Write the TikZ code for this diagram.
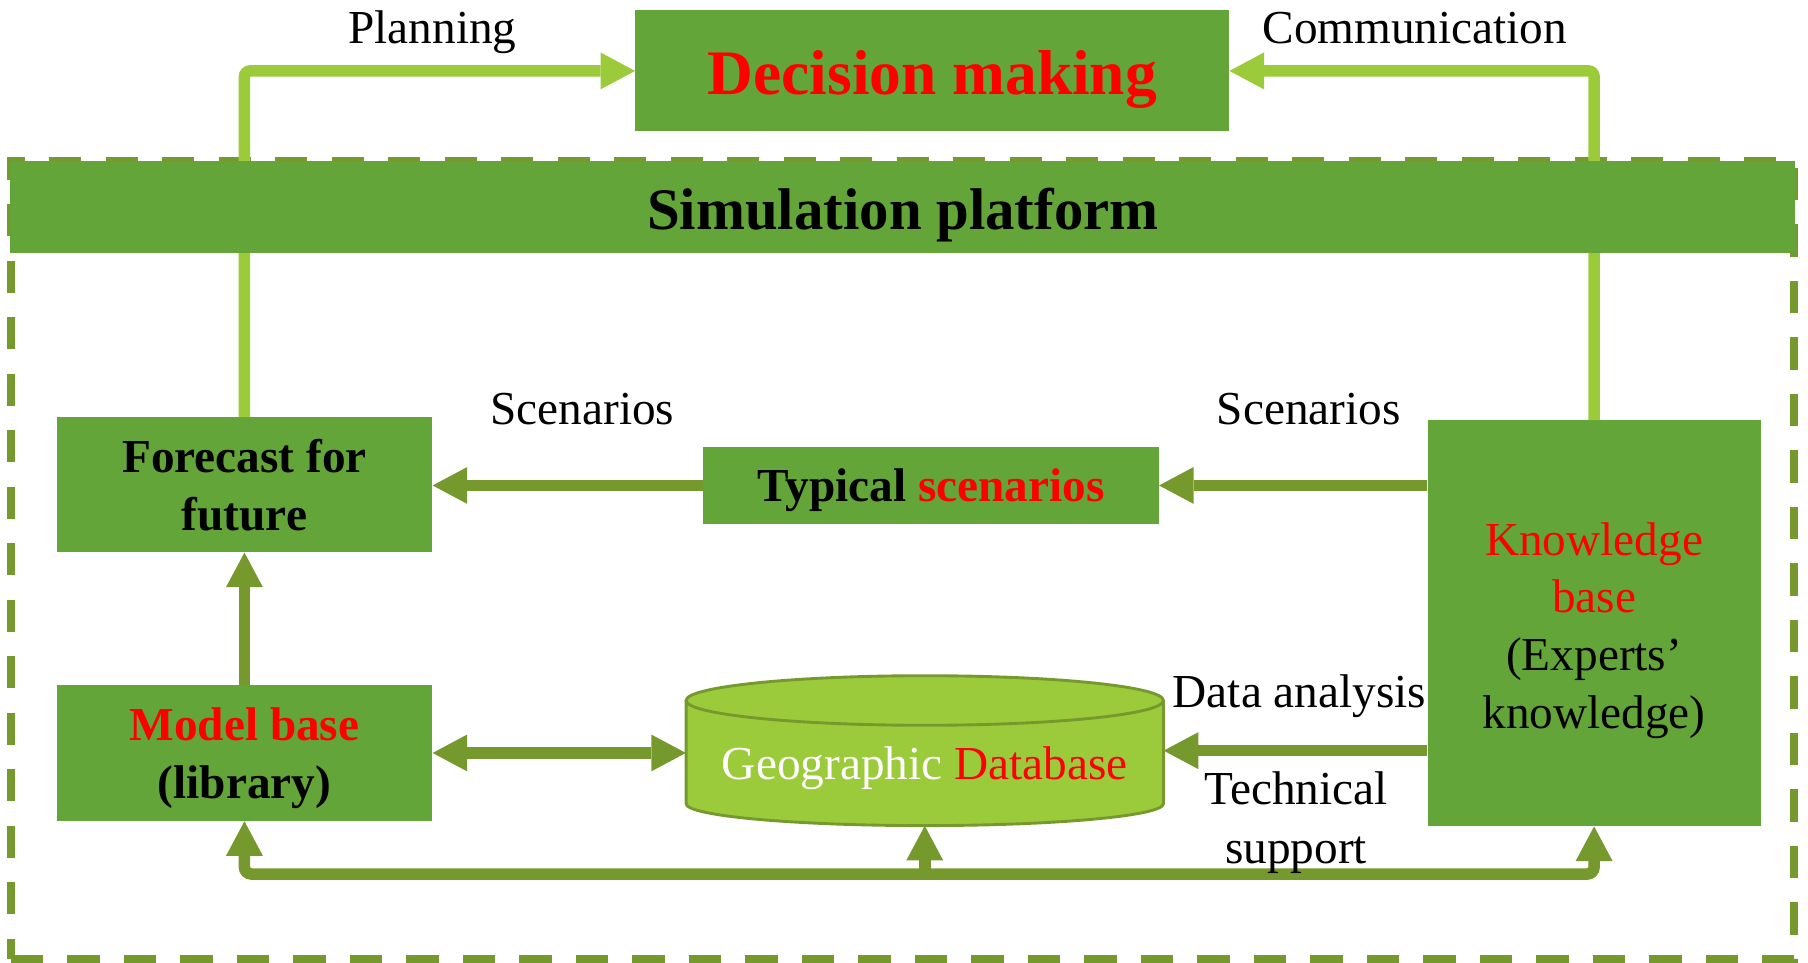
\documentclass[tikz,border=0pt]{standalone}
\usepackage{fontspec}
\setmainfont{Liberation Serif}
\usetikzlibrary{arrows.meta}
\definecolor{boxgreen}{RGB}{99,165,57}
\definecolor{olivegreen}{RGB}{118,153,45}
\definecolor{limegreen}{RGB}{155,203,59}
\definecolor{hotred}{RGB}{255,0,0}
\newcommand{\txt}{\fontsize{41}{50}\selectfont}
\begin{document}
\begin{tikzpicture}[x=1pt,y=-1pt,
  >={Triangle[length=30pt,width=32pt,line width=0pt]},
  box/.style={fill=boxgreen, inner sep=0pt, align=center, font=\txt},
  lbl/.style={inner sep=0pt, font=\txt, anchor=base},
  oarrow/.style={draw=olivegreen, line width=10pt, ->},
  larrow/.style={draw=limegreen, line width=10pt, ->, rounded corners=5pt},
]
\useasboundingbox (0,0) rectangle (1568,835);

% boxes
\node[box, minimum width=515pt, minimum height=105pt,
      font=\fontsize{55}{60}\selectfont\bfseries, text=hotred,
      text height=41pt, text depth=0pt] (dec) at (808.5,61.5) {Decision making};
\node[box, minimum width=326pt, minimum height=117pt, font=\txt\bfseries]
      (fc) at (212,420.5) {Forecast for\\future};
\node[box, minimum width=395pt, minimum height=67pt, font=\txt\bfseries,
      text height=28pt, text depth=0pt]
      (typ) at (807.5,421) {Typical \textcolor{hotred}{scenarios}};
\node[box, minimum width=289pt, minimum height=352pt]
      (kb) at (1382.5,540.5)
      {\rule{0pt}{41pt}\textcolor{hotred}{Knowledge}\\\textcolor{hotred}{base}\\(Experts’\\knowledge)};
\node[box, minimum width=326pt, minimum height=118pt, font=\txt\bfseries]
      (mb) at (212,653) {\rule{0pt}{38pt}\textcolor{hotred}{Model base}\\(library)};

% database cylinder
\path[fill=limegreen, draw=olivegreen, line width=2.5pt]
  (595,609) -- (595,697) arc[start angle=180, end angle=360, x radius=207pt, y radius=19pt]
  -- (1009,609) -- cycle;
\path[fill=limegreen, draw=olivegreen, line width=2.5pt]
  (802,607.5) ellipse[x radius=207pt, y radius=21.5pt];
\node[inner sep=0pt, minimum width=414pt, minimum height=130pt] (db) at (802,651) {};
\node[lbl] (dbtext) at (802,676) {\textcolor{white}{Geographic} \textcolor{hotred}{Database}};

% dashed platform frame
\node[draw=olivegreen, line width=7pt, dash pattern=on 28pt off 21pt,
      minimum width=1546.5pt, minimum height=692pt, inner sep=0pt]
      (frame) at (782.75,486) {};

% links to decision making (behind the band)
\draw[larrow] (fc.north) |- (dec.west);
\draw[larrow] (kb.north) |- (dec.east);

% simulation platform band
\node[box, minimum width=1548pt, minimum height=79pt,
      font=\fontsize{51}{56}\selectfont\bfseries,
      text height=39pt, text depth=0pt] (sim) at (783,179.5) {Simulation platform};

% flows inside the platform
\draw[oarrow] (typ.west) -- (typ.west -| fc.east);
\draw[oarrow] (kb.west |- typ.west) -- (typ.east);
\draw[oarrow] (mb.north) -- (fc.south);
\draw[oarrow, <->] (mb.east) -- (mb.east -| db.west);
\draw[oarrow] (kb.west |- db.east) -- (db.east);
\coordinate (busy) at (0,758);
\draw[oarrow, <->, rounded corners=6pt]
  (mb.south) -- (mb.south |- busy) -- (kb.south |- busy) -- (kb.south);
\draw[oarrow] (db.south |- busy) -- (db.south);

% labels
\node[lbl] (plan) at (375,38) {Planning};
\node[lbl] (comm) at (1227,38) {Communication};
\node[lbl] (scen1) at (505,368) {Scenarios};
\node[lbl] (scen2) at (1135,368) {Scenarios};
\node[lbl] (data) at (1127,614) {Data analysis};
\node[lbl] (tech) at (1124,698) {Technical};
\node[lbl] (supp) at (1124,749) {support};
\end{tikzpicture}
\end{document}
